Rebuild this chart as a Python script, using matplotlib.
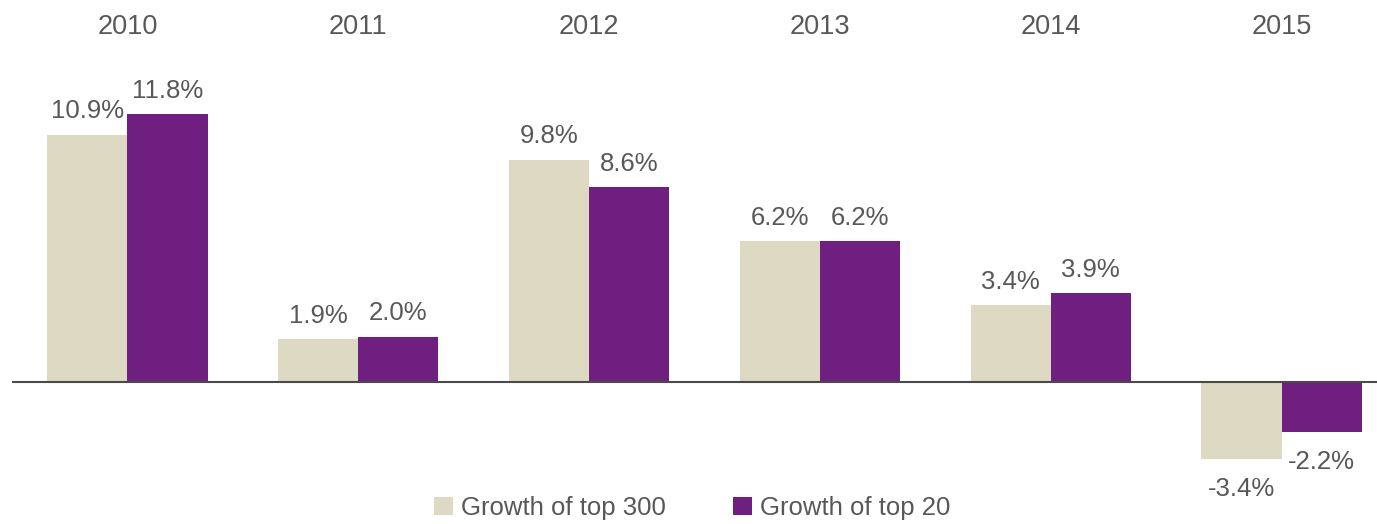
import matplotlib
matplotlib.use("Agg")
import matplotlib.pyplot as plt
import matplotlib.transforms as mtransforms
import numpy as np

years = ["2010", "2011", "2012", "2013", "2014", "2015"]
top300 = [10.9, 1.9, 9.8, 6.2, 3.4, -3.4]
top20 = [11.8, 2.0, 8.6, 6.2, 3.9, -2.2]
series_names = ["Growth of top 300", "Growth of top 20"]

BEIGE = "#DDD9C3"
PURPLE = "#6F1F80"
TEXT = "#58585A"
AXIS = "#4A4A4A"

plt.rcParams["font.family"] = ["Liberation Sans Narrow", "Liberation Sans", "DejaVu Sans"]

fig = plt.figure(figsize=(13.77, 5.24), dpi=100)
ax = fig.add_axes([12 / 1377, 0.0977, 1385 / 1377, 0.7798])

x = np.arange(len(years))
width = 0.347
bars_a = ax.bar(x - width / 2, top300, width, color=BEIGE, label=series_names[0])
bars_b = ax.bar(x + width / 2, top20, width, color=PURPLE, label=series_names[1])

ax.set_xlim(-0.5, len(years) - 0.5)
ax.set_ylim(-4, 14)
ax.axhline(0, color=AXIS, linewidth=1.5, zorder=3)
for side in ax.spines.values():
    side.set_visible(False)
ax.set_xticks([])
ax.set_yticks([])

# value labels: a little more room below the negative bars
for bars in (bars_a, bars_b):
    for rect, v in zip(bars, bars.datavalues):
        cx = rect.get_x() + rect.get_width() / 2
        if v >= 0:
            ax.annotate(f"{v:.1f}%", (cx, v), xytext=(0, 8), textcoords="offset points",
                        ha="center", va="bottom", fontsize=18.5, color=TEXT)
        else:
            ax.annotate(f"{v:.1f}%", (cx, v), xytext=(0, -13), textcoords="offset points",
                        ha="center", va="top", fontsize=18.5, color=TEXT)

# year headers sit above the plot area
trans = mtransforms.blended_transform_factory(ax.transData, fig.transFigure)
for i, year in enumerate(years):
    ax.text(i, 1 - 27 / 524, year, transform=trans, ha="center", va="center",
            fontsize=19.5, color=TEXT)

fig.legend(loc="center", bbox_to_anchor=(692 / 1377, 1 - 508 / 524), ncol=2,
           frameon=False, fontsize=18.5, handlelength=0.75, handleheight=0.75,
           handletextpad=0.3, columnspacing=2.6, labelcolor=TEXT)

fig.savefig("out.png", dpi=100)
